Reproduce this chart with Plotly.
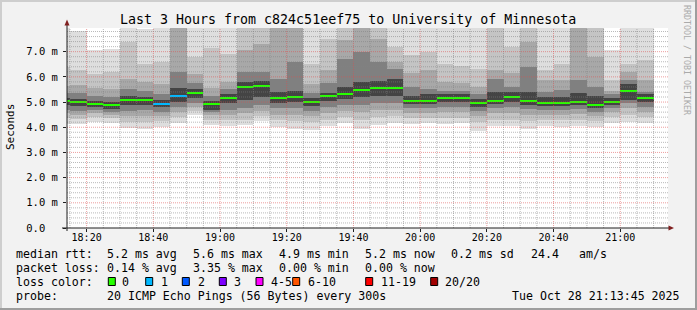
import plotly.graph_objects as go
import pandas as pd

# ---------------- data ----------------
DAY = "2025-10-28"
slot_start = ["18:10", "18:15", "18:20", "18:25", "18:30", "18:35", "18:40", "18:45", "18:50",
              "18:55", "19:00", "19:05", "19:10", "19:15", "19:20", "19:25", "19:30", "19:35",
              "19:40", "19:45", "19:50", "19:55", "20:00", "20:05", "20:10", "20:15", "20:20",
              "20:25", "20:30", "20:35", "20:40", "20:45", "20:50", "20:55", "21:00", "21:05"]

# smoke: RTT distribution per 5-minute slot (ms), lowest -> highest
q00 = [4.13, 4.12, 4.20, 4.15, 3.96, 3.92, 4.00, 4.15, 4.48, 4.10, 4.05, 4.10, 4.25, 4.00, 3.95, 3.90, 4.05, 4.15,
       3.95, 4.10, 4.15, 4.12, 4.15, 4.12, 4.15, 3.85, 4.05, 4.05, 3.95, 4.05, 4.00, 4.05, 4.00, 4.15, 4.22, 4.15]
q10 = [4.35, 4.31, 4.40, 4.35, 4.20, 4.20, 4.25, 4.40, 4.65, 4.30, 4.30, 4.30, 4.45, 4.30, 4.25, 4.20, 4.30, 4.40,
       4.30, 4.40, 4.45, 4.35, 4.35, 4.35, 4.38, 4.20, 4.30, 4.30, 4.25, 4.30, 4.30, 4.30, 4.25, 4.40, 4.50, 4.40]
q20 = [4.55, 4.47, 4.55, 4.50, 4.45, 4.45, 4.45, 4.60, 4.80, 4.48, 4.50, 4.55, 4.65, 4.50, 4.50, 4.45, 4.55, 4.65,
       4.60, 4.70, 4.70, 4.55, 4.55, 4.60, 4.60, 4.45, 4.55, 4.55, 4.50, 4.50, 4.50, 4.52, 4.45, 4.60, 4.75, 4.62]
q30 = [4.70, 4.64, 4.70, 4.62, 4.65, 4.70, 4.62, 4.80, 4.95, 4.60, 4.70, 4.75, 4.90, 4.75, 4.75, 4.65, 4.80, 4.90,
       4.90, 4.95, 4.95, 4.75, 4.75, 4.80, 4.80, 4.65, 4.75, 4.80, 4.72, 4.70, 4.70, 4.72, 4.62, 4.75, 4.95, 4.80]
q40 = [4.90, 4.83, 4.82, 4.74, 4.88, 4.90, 4.80, 5.02, 5.15, 4.70, 4.95, 5.10, 5.20, 4.95, 5.00, 4.85, 5.05, 5.12,
       5.20, 5.25, 5.25, 4.92, 4.92, 5.00, 5.00, 4.82, 4.92, 5.00, 4.90, 4.85, 4.85, 4.88, 4.77, 4.88, 5.10, 5.00]
median = [5.03, 4.99, 4.92, 4.87, 5.08, 5.08, 4.92, 5.24, 5.34, 4.92, 5.16, 5.61, 5.63, 5.16, 5.20, 5.01, 5.24, 5.33,
          5.48, 5.56, 5.56, 5.05, 5.05, 5.16, 5.16, 4.97, 5.05, 5.20, 5.05, 4.97, 4.97, 5.01, 4.89, 5.01, 5.45, 5.16]
q60 = [5.15, 5.11, 5.05, 5.00, 5.25, 5.22, 5.10, 5.55, 5.50, 5.05, 5.30, 5.78, 5.85, 5.40, 5.45, 5.15, 5.35, 5.60,
       5.80, 5.85, 5.90, 5.25, 5.30, 5.30, 5.30, 5.12, 5.40, 5.40, 5.40, 5.20, 5.20, 5.35, 5.25, 5.15, 5.72, 5.30]
q70 = [5.35, 5.37, 5.25, 5.20, 5.50, 5.45, 5.30, 6.20, 5.75, 5.25, 5.50, 6.20, 6.20, 5.90, 6.60, 5.35, 5.75, 6.70,
       7.00, 6.60, 6.30, 5.60, 5.50, 5.45, 5.45, 5.30, 5.90, 5.61, 6.40, 5.41, 5.48, 5.87, 5.60, 5.30, 5.87, 5.40]
q80 = [5.65, 5.67, 5.55, 5.50, 5.90, 5.80, 5.70, 8.20, 6.10, 5.55, 5.80, 7.06, 7.31, 8.10, 8.50, 5.70, 6.27, 7.45,
       8.30, 7.52, 6.60, 6.14, 6.27, 5.80, 5.75, 5.60, 6.27, 6.14, 7.40, 5.87, 5.87, 8.20, 6.80, 5.45, 6.20, 5.87]
q90 = [6.40, 6.27, 6.10, 6.20, 7.40, 6.50, 6.60, 8.60, 6.80, 7.15, 6.90, 8.20, 8.20, 8.50, 9.00, 6.50, 7.50, 8.20,
       8.80, 8.50, 7.20, 6.86, 7.00, 6.50, 6.45, 6.30, 8.20, 7.20, 8.20, 6.27, 6.53, 8.60, 8.20, 5.87, 6.53, 6.67]
q100 = [8.20, 7.83, 7.05, 7.12, 8.30, 7.90, 8.20, 9.00, 8.00, 8.10, 8.10, 8.60, 8.60, 9.00, 9.50, 8.10, 8.10, 8.60,
        9.20, 9.00, 8.10, 8.10, 8.10, 8.10, 8.00, 8.00, 8.60, 8.10, 8.70, 8.00, 8.00, 9.00, 8.60, 7.06, 8.10, 8.00]
loss = [0, 0, 0, 0, 0, 0, 1, 1, 0, 0, 0, 0, 0, 0, 0, 0, 0, 0,
        0, 0, 0, 0, 0, 0, 0, 0, 0, 0, 0, 0, 0, 0, 0, 0, 0, 0]

x_ticks = ["18:20", "18:40", "19:00", "19:20", "19:40", "20:00", "20:20", "20:40", "21:00"]
y_ticks = [0, 1, 2, 3, 4, 5, 6, 7]
y_ticktext = ["0.0\u00a0\u00a0", "1.0 m", "2.0 m", "3.0 m", "4.0 m", "5.0 m", "6.0 m", "7.0 m"]

loss_labels = ["0", "1", "2", "3", "4-5", "6-10", "11-19", "20/20"]
loss_palette = ["#26ff00", "#00b8ff", "#0059ff", "#7e00ff", "#ff00ff", "#ff5500", "#ff0000", "#a10000"]

title = "Last 3 Hours from c824c51eef75 to University of Minnesota"
rtt_row = ["median rtt:", "5.2 ms avg", "5.6 ms max", "4.9 ms min", "5.2 ms now", "0.2 ms sd", "24.4", "am/s"]
loss_row = ["packet loss:", "0.14 % avg", "3.35 % max", "0.00 % min", "0.00 % now"]
probe_row = ["probe:", "20 ICMP Echo Pings (56 Bytes) every 300s"]
stamp = "Tue Oct 28 21:13:45 2025"

# ---------------- layout helpers ----------------
W, H = 697, 310
PL, PR, PT, PB = 67, 668, 28, 228
PW, PH = PR - PL, PB - PT
FONT = "DejaVu Sans Mono"


def fx(px):
    return (px - PL) / PW


def fy(py):
    return (PB - py) / PH


def loss_index(n):
    if n <= 3:
        return n
    if n <= 5:
        return 4
    if n <= 10:
        return 5
    if n <= 19:
        return 6
    return 7


t_start = pd.to_datetime([f"{DAY} {s}" for s in slot_start])
x_mid = t_start + pd.Timedelta(minutes=2.5)
slot_ms = 5 * 60 * 1000

fig = go.Figure()

bands = [(q00, q100, "#dedede"), (q10, q90, "#c4c4c4"), (q20, q80, "#a8a8a8"),
         (q30, q70, "#808080"), (q40, q60, "#444444")]
for lo, hi, col in bands:
    fig.add_trace(go.Bar(x=x_mid, base=lo, y=[h - l for l, h in zip(lo, hi)], width=slot_ms,
                         marker=dict(color=col, line=dict(width=0)), showlegend=False,
                         hoverinfo="skip"))

med_h = 0.08
fig.add_trace(go.Bar(x=x_mid, base=[m - med_h / 2 for m in median], y=[med_h] * len(median),
                     width=slot_ms,
                     marker=dict(color=[loss_palette[loss_index(n)] for n in loss], line=dict(width=0)),
                     showlegend=False, hoverinfo="skip"))

shapes = []
MIN_COL = "rgba(130,130,130,0.55)"
MAJ_COL = "rgba(222,79,79,0.55)"
DASH = "1px,1px"
for t in pd.date_range(f"{DAY} 18:15", f"{DAY} 21:10", freq="5min"):
    major = t.minute % 20 == 0
    shapes.append(dict(type="line", xref="x", yref="paper", x0=t, x1=t, y0=0, y1=1, layer="above",
                       line=dict(color=MAJ_COL if major else MIN_COL, width=1, dash=DASH)))
for k in range(1, 40):
    v = k * 0.2
    major = k % 5 == 0
    shapes.append(dict(type="line", xref="paper", yref="y", x0=0, x1=1, y0=v, y1=v, layer="above",
                       line=dict(color=MAJ_COL if major else MIN_COL, width=1, dash=DASH)))

# axes with arrows
AX = "#1f1f1f"
ARROW = "#801f1f"
shapes.append(dict(type="line", xref="paper", yref="paper", x0=fx(62), x1=fx(669), y0=0, y1=0,
                   layer="above", line=dict(color=AX, width=1)))
shapes.append(dict(type="line", xref="paper", yref="paper", x0=0, x1=0, y0=fy(231), y1=fy(24),
                   layer="above", line=dict(color=AX, width=1)))
shapes.append(dict(type="path", xref="paper", yref="paper", layer="above",
                   path=f"M {fx(64.5)} {fy(25.5)} L {fx(69.5)} {fy(25.5)} L {fx(67)} {fy(19.5)} Z",
                   fillcolor=ARROW, line=dict(width=0)))
shapes.append(dict(type="path", xref="paper", yref="paper", layer="above",
                   path=f"M {fx(668.5)} {fy(225.5)} L {fx(668.5)} {fy(230.5)} L {fx(674)} {fy(228)} Z",
                   fillcolor=ARROW, line=dict(width=0)))

# outer 3D frame
SHA, SHB = "#cecece", "#9e9e9e"
shapes.append(dict(type="rect", xref="paper", yref="paper", x0=fx(0), x1=fx(W), y0=fy(0), y1=fy(2),
                   fillcolor=SHA, line=dict(width=0), layer="above"))
shapes.append(dict(type="rect", xref="paper", yref="paper", x0=fx(0), x1=fx(2), y0=fy(0), y1=fy(H),
                   fillcolor=SHA, line=dict(width=0), layer="above"))
shapes.append(dict(type="rect", xref="paper", yref="paper", x0=fx(0), x1=fx(W), y0=fy(H - 2), y1=fy(H),
                   fillcolor=SHB, line=dict(width=0), layer="above"))
shapes.append(dict(type="rect", xref="paper", yref="paper", x0=fx(W - 2), x1=fx(W), y0=fy(0), y1=fy(H),
                   fillcolor=SHB, line=dict(width=0), layer="above"))

# legend colour boxes
box_x = [108.3, 145.7, 182.3, 219.3, 256.0, 292.7, 365.7, 430.7]
lab_x = [121.7, 161.0, 197.7, 234.3, 270.7, 308.0, 380.7, 445.3]
for bx, col in zip(box_x, loss_palette):
    shapes.append(dict(type="rect", xref="paper", yref="paper", x0=fx(bx), x1=fx(bx + 7),
                       y0=fy(285.5), y1=fy(277.5), fillcolor=col, line=dict(color="#000000", width=1),
                       layer="above"))

ann = []
LEG = 11.6


def text(px, py, s, size=LEG, anchor="left", color="#000000", angle=0):
    ann.append(dict(x=fx(px), y=fy(py), xref="paper", yref="paper", text=s, showarrow=False,
                    xanchor=anchor, yanchor="middle", textangle=angle,
                    font=dict(family=FONT, size=size, color=color)))


text(347.5, 19, title, size=13.3, anchor="center")
text(10, 127, "Seconds", size=11, anchor="center", angle=-90)
text(687, 60, "RRDTOOL / TOBI OETIKER", size=8.3, anchor="center", color="#aaaaaa", angle=90)

row_x1 = [16, 107.3, 192.7, 279.0, 365.0, 451.0, 530.7, 579.3]
for px, s in zip(row_x1, rtt_row):
    text(px - 2, 254.3, s)
row_x2 = [16, 107.3, 192.7, 279.0, 365.0]
for px, s in zip(row_x2, loss_row):
    text(px - 2, 268.3, s)
text(14, 281.7, "loss color:")
for px, s in zip(lab_x, loss_labels):
    text(px - 2, 281.7, s)
text(14, 296.3, probe_row[0])
text(105.3, 296.3, probe_row[1])
text(682, 296.3, stamp, anchor="right")

fig.update_layout(
    width=W, height=H,
    margin=dict(l=PL, r=W - PR, t=PT, b=H - PB, autoexpand=False),
    paper_bgcolor="#f2f2f2", plot_bgcolor="#ffffff",
    barmode="overlay", bargap=0, showlegend=False,
    shapes=shapes, annotations=ann,
    xaxis=dict(type="date", range=[f"{DAY} 18:14:07", f"{DAY} 21:14:19"],
               tickvals=[f"{DAY} {t}" for t in x_ticks], ticktext=x_ticks,
               showgrid=False, zeroline=False, showline=False,
               ticks="outside", ticklen=3, tickcolor=AX, ticklabelstandoff=-3,
               tickfont=dict(family=FONT, size=10, color="#000000"), fixedrange=True),
    yaxis=dict(range=[0, PH / 25.19], tickvals=y_ticks, ticktext=y_ticktext,
               showgrid=False, zeroline=False, showline=False,
               ticks="outside", ticklen=3, tickcolor=AX, ticklabelstandoff=3,
               tickfont=dict(family=FONT, size=10.5, color="#000000"), fixedrange=True),
)

fig.write_html("out.html")
